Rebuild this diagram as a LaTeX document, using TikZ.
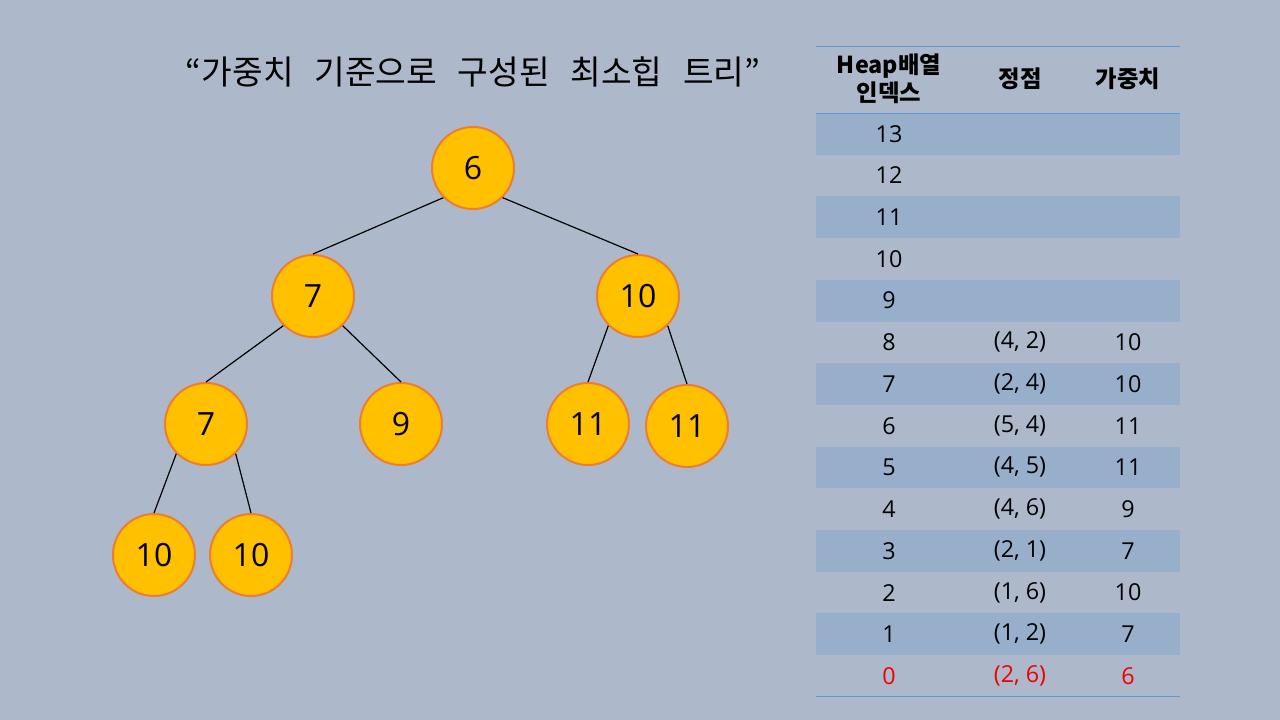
\documentclass[tikz,border=0pt]{standalone}
\usepackage{fontspec}
\setmainfont{Noto Sans CJK KR}
\newfontfamily\numfont{Open Sans}
\usetikzlibrary{positioning}
\definecolor{slide_bg}{RGB}{173,185,202}
\definecolor{row_band}{RGB}{152,175,204}
\definecolor{rule_blue}{RGB}{91,155,213}
\definecolor{heap_fill}{RGB}{255,192,0}
\definecolor{heap_edge}{RGB}{237,125,49}
\definecolor{root_red}{RGB}{240,0,0}
\newcommand{\wordgap}{\hspace{15.5pt}}
\tikzset{
  heap_node/.style={circle, draw=heap_edge, fill=heap_fill, line width=1.5pt, minimum size=61.5pt, inner sep=0pt, font=\numfont\fontsize{24}{24}\selectfont},
  tree_edge/.style={-, line width=0.9pt, black},
  title_text/.style={font=\fontsize{25}{25}\selectfont},
  head_text/.style={font=\fontsize{17.5}{21}\selectfont\bfseries, align=center},
  cell_text/.style={font=\numfont\fontsize{17.5}{17.5}\selectfont},
  band/.style={fill=row_band, draw=none},
  table_rule/.style={draw=rule_blue, line width=0.7pt}
}

\begin{document}
\begin{tikzpicture}[x=0.75pt, y=-0.75pt]

  % --- Slide background ---
  \fill[slide_bg] (0,0) rectangle (1280,720);
  \useasboundingbox (0,0) rectangle (1280,720);

  % --- Title ---
  \node[title_text] (title) at (473,72) {“가중치\wordgap 기준으로\wordgap 구성된\wordgap 최소힙\wordgap 트리”};

  % --- Heap tree (heap index = node name) ---
  \node[heap_node] (heap0) at (473,168) {6};
  \node[heap_node] (heap1) at (313,296) {7};
  \node[heap_node] (heap2) at (638,296) {10};
  \node[heap_node] (heap3) at (206,424) {7};
  \node[heap_node] (heap4) at (401,424) {9};
  \node[heap_node] (heap5) at (588,424) {11};
  \node[heap_node] (heap6) at (687,426) {11};
  \node[heap_node] (heap7) at (154,555) {10};
  \node[heap_node] (heap8) at (251,555) {10};

  % --- Edges: left child from south west, right child from south east ---
  \foreach \p/\l/\r in {0/1/2, 1/3/4, 2/5/6, 3/7/8} {
    \draw[tree_edge] (heap\p.south west) -- (heap\l.north);
    \draw[tree_edge] (heap\p.south east) -- (heap\r.north);
  }

  % --- Table geometry ---
  \def\xLeft{816}
  \def\xRight{1180}
  \def\xIdx{889}
  \def\xVtx{1020}
  \def\xWt{1128}
  \def\yTop{113}
  \def\rowH{41.7}

  % --- Striped rows ---
  \foreach \r in {0,2,...,12} {
    \fill[band] (\xLeft,{\yTop+\rowH*\r}) rectangle (\xRight,{\yTop+\rowH*(\r+1)});
  }

  % --- Rules ---
  \draw[table_rule] (\xLeft,46) -- (\xRight,46);
  \draw[table_rule] (\xLeft,\yTop) -- (\xRight,\yTop);
  \draw[table_rule] (\xLeft,{\yTop+\rowH*14}) -- (\xRight,{\yTop+\rowH*14});

  % --- Header ---
  \node[head_text] (head_idx) at (\xIdx,79) {Heap배열\\인덱스};
  \node[head_text] (head_vtx) at (\xVtx,79) {정점};
  \node[head_text] (head_wt) at (\xWt,79) {가중치};

  % --- Rows ---
  \foreach \idx/\vtx/\wt/\col [count=\r from 0] in {
      13///black, 12///black, 11///black, 10///black, 9///black,
      8/{(4, 2)}/10/black, 7/{(2, 4)}/10/black, 6/{(5, 4)}/11/black,
      5/{(4, 5)}/11/black, 4/{(4, 6)}/9/black, 3/{(2, 1)}/7/black,
      2/{(1, 6)}/10/black, 1/{(1, 2)}/7/black, 0/{(2, 6)}/6/root_red} {
    \node[cell_text, text=\col] (idx-\r) at (\xIdx,{\yTop+\rowH*(\r+0.5)}) {\idx};
    \node[cell_text, text=\col] (vtx-\r) at (\xVtx,{\yTop+\rowH*(\r+0.5)}) {\vtx};
    \node[cell_text, text=\col] (wt-\r) at (\xWt,{\yTop+\rowH*(\r+0.5)}) {\wt};
  }

\end{tikzpicture}
\end{document}
